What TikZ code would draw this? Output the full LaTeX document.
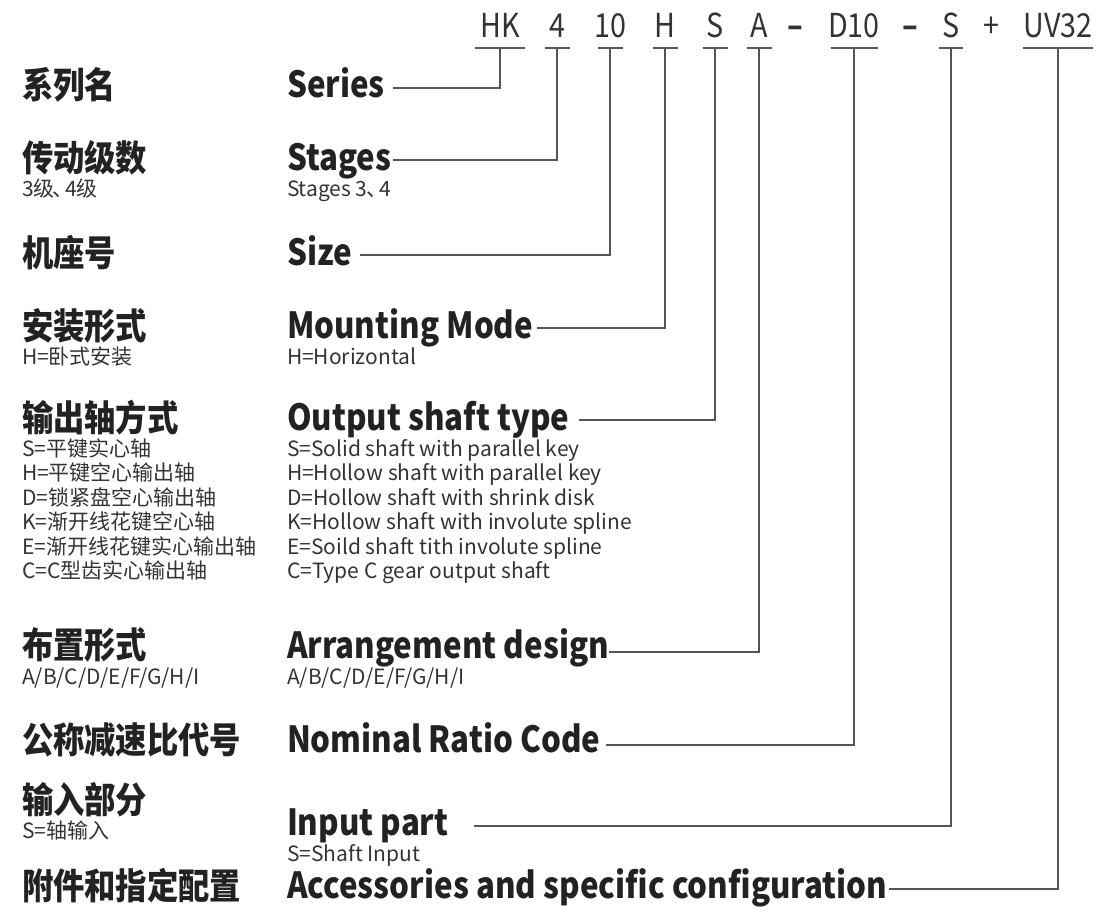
\documentclass[tikz,border=0pt]{standalone}
\usepackage{fontspec}
\setmainfont{Noto Sans CJK SC}
\newfontfamily\headfont{Noto Sans CJK SC}[FakeStretch=0.87]
\definecolor{ink}{HTML}{222222}
\definecolor{subink}{HTML}{333333}
\definecolor{codeink}{HTML}{333333}
\definecolor{linec}{HTML}{555555}
\tikzset{
  ttl/.style={anchor=base west, inner sep=0pt, outer sep=0pt, font=\headfont\fontsize{27}{32}\selectfont\bfseries, text=ink},
  sub/.style={anchor=base west, inner sep=0pt, outer sep=0pt, font=\fontsize{15.75}{18}\selectfont, text=subink},
  code/.style={anchor=base, inner sep=0pt, outer sep=0pt, font=\headfont\fontsize{24.75}{30}\selectfont, text=codeink},
  link/.style={draw=linec, line width=0.9pt},
}
\begin{document}
\begin{tikzpicture}[x=0.75pt, y=-0.75pt]
\useasboundingbox (0,0) rectangle (1100,910);

% model code on the top line
\foreach \n/\x/\t in {c1/500/HK, c2/557/4, c3/610/10, c4/665/H, c5/715/S, c6/759/A,
                      d1/795/\textbf{–}, c7/854/D10, d2/910/\textbf{–}, c8/951/S, p1/991/+, c9/1058/UV32}
  \node[code] (\n) at (\x,37) {\t};

% underlines below each code part
\foreach \n/\x/\w in {u1/500/50, u2/557/25, u3/610/25, u4/665/25, u5/715/25, u6/759/25,
                      u7/854/47, u8/951/24, u9/1058/70} {
  \coordinate (\n) at (\x,48);
  \draw[link] ([xshift=-\w/2*0.75pt]\n) -- ([xshift=\w/2*0.75pt]\n);
}

% Chinese titles
\node[ttl] (z1) at (22,98)  {系列名};
\node[ttl] (z2) at (22,171) {传动级数};
\node[ttl] (z3) at (22,266) {机座号};
\node[ttl] (z4) at (22,339) {安装形式};
\node[ttl] (z5) at (22,431) {输出轴方式};
\node[ttl] (z6) at (22,658) {布置形式};
\node[ttl] (z7) at (22,753) {公称减速比代号};
\node[ttl] (z8) at (22,813) {输入部分};
\node[ttl] (z9) at (22,899) {附件和指定配置};

% English titles
\node[ttl] (e1) at (287,97)  {Series};
\node[ttl] (e2) at (287,170) {Stages};
\node[ttl] (e3) at (287,265) {Size};
\node[ttl] (e4) at (287,338) {Mounting Mode};
\node[ttl] (e5) at (287,430) {Output shaft type};
\node[ttl] (e6) at (287,658) {Arrangement design};
\node[ttl] (e7) at (287,752) {Nominal Ratio Code};
\node[ttl] (e8) at (287,835) {Input part};
\node[ttl] (e9) at (287,898) {Accessories and specific configuration};

% explanatory lines
\node[sub] (zs2) at (22,196) {3级\kern-0.1em、\kern-0.4em4级};
\node[sub] (es2) at (287,196) {Stages 3\kern-0.05em、\kern-0.4em4};
\node[sub] (zs4) at (22,364) {H=卧式安装};
\node[sub] (es4) at (287,364) {H=Horizontal};
\foreach \i/\z/\e in {0/S=平键实心轴/S=Solid shaft with parallel key,
                      1/H=平键空心输出轴/H=Hollow shaft with parallel key,
                      2/D=锁紧盘空心输出轴/D=Hollow shaft with shrink disk,
                      3/K=渐开线花键空心轴/K=Hollow shaft with involute spline,
                      4/E=渐开线花键实心输出轴/E=Soild shaft tith involute spline,
                      5/C=C型齿实心输出轴/C=Type C gear output shaft} {
  \node[sub] (zs5-\i) at (22,456+24.5*\i) {\z};
  \node[sub] (es5-\i) at (287,456+24.5*\i) {\e};
}
\node[sub] (zs6) at (22,684) {A/B/C/D/E/F/G/H/I};
\node[sub] (es6) at (287,684) {A/B/C/D/E/F/G/H/I};
\node[sub] (zs8) at (22,838) {S=轴输入};
\node[sub] (es8) at (287,861) {S=Shaft Input};

% leader lines from each title up to its code part
\coordinate (s1) at (393,88);
\coordinate (s2) at (393,160);
\coordinate (s3) at (360,255);
\coordinate (s4) at (537,328);
\coordinate (s5) at (579,420);
\coordinate (s6) at (609,652);
\coordinate (s7) at (606,745);
\coordinate (s8) at (474,826);
\coordinate (s9) at (889,889);
\foreach \k in {1,...,9}
  \draw[link] (s\k) -| (u\k);
\end{tikzpicture}
\end{document}
